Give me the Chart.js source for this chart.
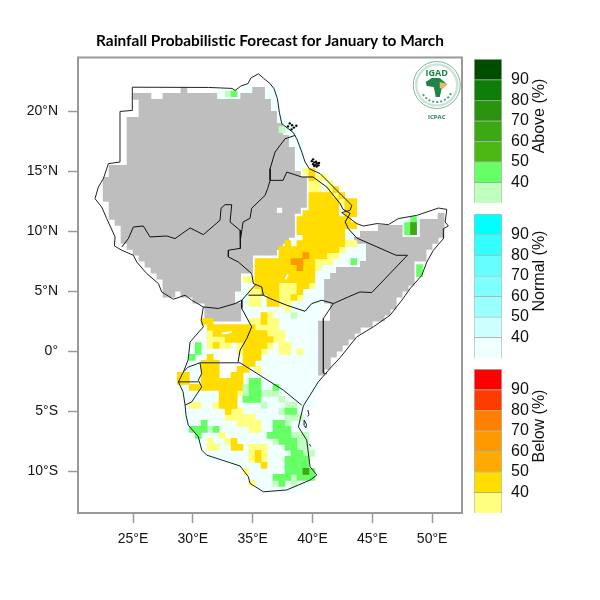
<!DOCTYPE html>
<html>
<head>
<meta charset="utf-8">
<style>
body { margin: 0; background: #fff; }
#wrap { position: relative; width: 600px; height: 600px; }
canvas { position: absolute; }
</style>
<script src="https://cdn.jsdelivr.net/npm/chart.js@4/dist/chart.umd.min.js"></script>
</head>
<body>
<div id="wrap">
    <canvas id="mapa" width="600" height="600" style="left:0;top:0"></canvas>
    <canvas id="barAbove" width="90" height="144" style="left:474px;top:59px"></canvas>
    <canvas id="barNormal" width="90" height="144" style="left:474px;top:214px"></canvas>
    <canvas id="barBelow" width="90" height="144" style="left:474px;top:369px"></canvas>
</div>
<script>
const lonTicks = [25, 30, 35, 40, 45, 50];
const latTicks = [20, 15, 10, 5, 0, -5, -10];

const barEdges = [30, 40, 50, 60, 70, 80, 90, 100];
const barTicks = [40, 50, 60, 70, 80, 90];
const aboveColors = ['#C0FFC0', '#66FF66', '#4BB814', '#3CA814', '#2A9410', '#0F7D0A', '#004D00'];
const normalColors = ['#F0FFFF', '#CCFFFF', '#99FFFF', '#80FFFF', '#66FFFF', '#33FFFF', '#00FFFF'];
const belowColors = ['#FFFF80', '#FFDD00', '#FFAA00', '#FF9900', '#FF7F00', '#FF3C00', '#FF0000'];

// dry season mask: row -> column ranges (half degree cells, from 23N / 21E)
const maskRows = {
    2: '16 28-29', 3: '8-10 13-21 26-29', 4: '9-30', 5: '9-30', 6: '9-31', 7: '7-31', 8: '7-32', 9: '7-32',
    10: '7-33', 11: '7-33', 12: '7-34', 13: '7-34', 14: '7-34', 15: '4-34', 16: '4-35', 17: '3-36', 18: '3-36',
    19: '3-36', 20: '3-36', 21: '4-36', 22: '4-31 33-35', 23: '4-34 59', 24: '5-34 56-59', 25: '6-34 49-52 56-59',
    26: '6-34 46-52 56-59', 27: '6-33 45-58', 28: '7-32 47-57', 29: '8-31 47-56', 30: '9-27 47-56', 31: '10-27 46-54',
    32: '11-27 42-54', 33: '12-25 41-54', 34: '13-25 40-54', 35: '13-25 40-53', 36: '13-14 16-24 40-52',
    37: '18-24 40-51', 38: '20-25 41-51', 39: '20-25 41-50', 40: '20-25 41-49', 41: '39-47', 42: '39-45',
    43: '39-44', 44: '39-43', 45: '39-42', 46: '39-41', 47: '39-40', 48: '39-40', 49: '39'
};

// forecast cells: row -> column ranges + class, later tokens win
// w normal<40, y below<40, Y below 40-50, O below 50-60, l above<40, G above 40-50, D above 50-60
const cellRows = {
    1: '26-27w 30-31w', 2: '21-22w 23l 24G 25w 26-27w 30-31w', 3: '21-25w 30-31w', 4: '30-31w', 5: '31w', 6: '31-32w',
    7: '32-33w', 8: '32l 33-34w', 9: '32-34w', 10: '33-35w', 11: '34-35w', 12: '35w', 13: '35w', 14: '35w',
    15: '36y 37Y', 16: '36w 37Y 38-39y', 17: '36w 37-38y 39w 40y', 18: '36w 37-38y 39w 40y 41Y',
    19: '36w 37-40Y 41y 42Y', 20: '36w 37-41Y 42y 43-44Y', 21: '36w 37-41Y 42w 43-44Y', 22: '36-41Y 42w 43-44Y',
    23: '35-43Y 52-53w 54G 55w', 24: '35-44Y 52w 53G 54D 55w', 25: '35-42Y 43-44w 52w 53G 54D 55w',
    26: '35w 36-42Y 43-44w 53-55w', 27: '33Y 34w 35-42Y 43-44y 45w', 28: '32-41Y 42y 43-46w',
    29: '32-39Y 36O 40-41y 42-46w', 30: '28-37Y 34-35O 38-40y 41-43w 44G 45-46w', 31: '28-37Y 35O 38y 39-41w 55G',
    32: '28-37Y 38-41w 55G', 33: '26-27y 28-37Y 38-39w', 34: '26-27w 28-31Y 32-34y 35-36Y 37y 38-39w',
    35: '25-26w 27-28y 29-31Y 32-34y 35Y 36-39w', 36: '25-26w 27-28y 29w 30-31Y 32-33y 34Y 35y 36-39w',
    37: '25-26w 27-28y 29w 30-31Y 32-33y 34-39w', 38: '26-32w 33y 34-38w', 39: '26-28w 29Y 30y 31-33w 34l 35-38w',
    40: '19-20Y 26w 27-28y 29Y 30-31y 32-38w', 41: '20-27Y 28-31y 32-38w', 42: '19w 20y 21-29Y 30-32y 33-38w',
    43: '19w 20-22y 23-30Y 31-32y 33-38w', 44: '17w 18G 19w 20y 21Y 22-23y 24w 25y 26-29Y 30y 31w 32-33y 34-38w',
    45: '17w 18G 19-21w 25y 26-28Y 29y 30-31w 32-33y 34w 35y 36-38w', 46: '16w 17G 18-19w 20Y 21w 26-28Y 29-38w',
    47: '16-18w 19-21Y 26-27Y 28-38w', 48: '17-18w 19-21Y 25-26Y 27w 28y 29-38w', 49: '15-16Y 17-18w 19-21Y 24-25Y 26-38w',
    50: '15-16Y 17-18w 19-25Y 26w 27-28G 29-38w', 51: '15-16w 17-25Y 26l 27-28G 29-30w 31G 32-38w',
    52: '15-21w 22-24Y 25y 26l 27-28G 29-31l 32-37w', 53: '16-21w 22-24Y 25w 26-28G 29-31w 32l 33-37w',
    54: '16w 17-18y 19-20w 21y 22-24Y 25-28w 29l 30-32w 33-34l 35-37w', 55: '16-22w 23Y 24-25y 26-31w 32l 33-34G 35w',
    56: '16-22w 23-27y 28-32w 33-35l 36w', 57: '16-18w 19G 20-24w 25-28y 29-30w 31-32G 33l 34-36w',
    58: '16w 17-19G 20l 21G 22-26w 27-28y 29-30w 31-33G 34-36w', 59: '18G 19-21w 22y 23-29w 30-33G 34-36l',
    60: '18-19w 20y 21-22w 23y 24Y 25-30w 31l 32-34G 35-36l', 61: '19w 20-21y 22-23w 24-25Y 26w 27-29y 30-32w 33-34G 35-36l 37w',
    62: '19-26w 27y 28Y 29y 30-33w 34-35G 36-37l', 63: '20-26w 27y 28Y 29y 30-32w 33-36G', 64: '24-28w 29Y 30-32w 33-36G',
    65: '26y 27-32w 33-35G 36D 37G', 66: '26-30w 31-33G 34l 35-37G', 67: '27y 28-30w 31l 32G 33w 34l 35-36w', 68: '28-35w'
};

// borders, [lon, lat]
const outerBorder = [[24.94,22.02],[31.3,22.0],[33.28,21.92],[33.53,21.75],[34.0,22.11],[34.62,22.33],[34.84,22.78],[35.48,23.14],[35.9,22.78],[36.46,22.31],[36.79,21.89],[37.07,21.06],[37.23,19.94],[37.43,18.98],[38.4,18.23],[38.69,17.72],[39.11,16.61],[39.38,15.78],[39.74,15.22],[40.64,14.81],[41.47,13.98],[42.45,13.0],[43.29,12.17],[43.15,11.75],[42.45,11.56],[43.15,11.06],[43.7,10.64],[44.26,10.44],[45.38,10.64],[46.35,10.56],[47.18,11.06],[48.72,11.33],[50.53,11.94],[51.23,11.83],[51.09,10.78],[51.36,10.44],[50.95,10.22],[50.95,9.39],[50.11,8.42],[49.56,7.44],[49.14,6.33],[48.16,5.22],[47.47,4.25],[46.49,3.0],[45.09,2.03],[43.7,1.19],[42.31,-0.54],[41.47,-1.44],[40.49,-2.56],[39.8,-3.67],[39.24,-4.56],[38.82,-6.31],[39.52,-7.42],[39.8,-9.64],[40.36,-10.33],[39.8,-10.75],[37.85,-11.58],[35.9,-11.73],[34.78,-11.03],[34.64,-10.48],[33.95,-9.58],[31.16,-8.67],[30.74,-8.25],[30.46,-7.14],[29.62,-6.17],[29.43,-5.33],[29.35,-4.5],[29.18,-3.39],[28.79,-2.56],[29.21,-1.73],[29.6,-0.75],[29.77,0.77],[30.88,2.03],[30.69,2.58],[30.88,3.69],[29.91,4.25],[29.35,4.67],[28.37,4.33],[27.4,4.94],[27.12,5.64],[26.15,6.47],[25.31,7.44],[25.03,8.0],[24.06,8.42],[23.44,8.78],[23.5,9.53],[22.8,11.06],[22.38,12.03],[21.82,12.72],[22.1,13.69],[22.52,14.39],[22.94,15.64],[23.91,15.78],[23.91,20.0],[24.94,20.08],[24.94,22.02]];
const sudanSouth = [[24.06,8.69],[24.61,9.39],[25.03,10.36],[25.86,10.44],[26.42,9.53],[27.82,9.61],[28.51,9.39],[29.77,10.28],[30.88,9.72],[32.27,10.92],[32.36,11.92],[32.69,12.22],[33.25,12.22],[33.11,10.78],[33.95,10.08],[34.0,9.44],[33.95,8.58],[32.97,8.42],[32.97,7.86],[33.8,7.44],[34.92,6.47],[35.06,5.64],[35.76,5.36],[35.89,4.67],[36.46,4.39],[37.85,3.83],[39.38,3.33],[39.94,3.97],[40.78,4.25],[41.75,3.97],[43.0,4.53],[43.98,4.94],[44.96,4.89],[47.94,8.0],[46.99,8.0],[43.7,9.44],[43.0,10.22],[42.73,10.78],[43.15,11.5]];
const sudanEast = [[38.55,18.0],[37.71,17.72],[36.87,16.61],[36.46,15.22],[36.46,14.25],[36.26,13.58],[36.04,13.0],[34.92,11.92],[34.78,11.08],[34.2,10.78],[34.0,9.44]];
const eritreaSouth = [[36.46,14.25],[37.54,14.25],[37.85,14.94],[39.11,14.53],[40.05,14.53],[41.2,13.69],[42.31,12.31],[42.56,11.83],[43.15,11.5]];
const ugandaNorth = [[30.88,3.69],[32.13,3.56],[33.53,3.97],[34.09,4.25],[35.2,5.5]];
const ilemi = [[34.64,4.67],[35.89,4.67]];
const ugandaKenya = [[34.09,4.25],[34.09,3.56],[34.92,2.03],[34.51,1.06],[33.95,0.08],[33.78,-0.92]];
const tanzaniaNorth = [[30.6,-0.97],[33.95,-0.97],[37.57,-3.25],[39.1,-4.5]];
const rwandaEast = [[30.6,-0.97],[30.74,-1.86],[30.46,-2.42],[30.74,-2.98],[29.91,-4.23],[29.35,-4.5]];
const rwandaSouth = [[28.79,-2.56],[30.46,-2.56]];
const rwandaNorth = [[29.21,-1.73],[29.6,-1.33],[30.6,-0.97]];
const kenyaSomalia = [[41.75,3.97],[40.91,2.72],[40.91,-0.75],[40.91,-1.83],[41.2,-1.9]];
const pemba = [[39.62,-4.9],[39.7,-5.3],[39.6,-5.45]];
const zanzibar = [[39.3,-5.75],[39.5,-6.1],[39.45,-6.4],[39.3,-6.2],[39.3,-5.75]];
const mafia = [[39.75,-7.75],[39.85,-7.95]];
const lakeKyoga = [[32.42,1.47],[33.0,1.55],[33.25,1.65]];
const lakeAbaya = [[37.75,6.0],[37.95,6.4]];
const islands = [[40.05,15.6],[40.15,15.75],[40.25,15.55],[40.3,15.8],[40.15,15.45],[40.4,15.65],[40.5,15.5],[40.35,15.4],[39.95,15.85],[40.55,15.7],[40.05,16.0],[37.95,18.75],[38.1,19.0],[38.3,18.85],[38.45,18.65],[38.65,18.8],[38.25,18.5]];

const cellColors = { w: '#F0FFFF', y: '#FFFF80', Y: '#FFDD00', O: '#FF9900', l: '#C0FFC0', G: '#66FF66', D: '#3FA80F' };

function leerFila(texto) {
    const celdas = [];
    texto.split(' ').forEach(function (token) {
        const m = token.match(/^(\d+)(?:-(\d+))?([a-zA-Z]?)$/);
        const fin = m[2] ? Number(m[2]) : Number(m[1]);
        for (let k = Number(m[1]); k <= fin; k++) {
            celdas.push({ col: k, clase: m[3] });
        }
    });
    return celdas;
}

function puntosMascara() {
    const puntos = [];
    Object.keys(maskRows).forEach(function (r) {
        leerFila(maskRows[r]).forEach(function (c) {
            puntos.push({ x: 21.25 + 0.5 * c.col, y: 22.75 - 0.5 * Number(r) });
        });
    });
    return puntos;
}

function puntosCeldas() {
    const porClase = { w: [], y: [], Y: [], O: [], l: [], G: [], D: [] };
    Object.keys(cellRows).forEach(function (j) {
        const fila = {};
        leerFila(cellRows[j]).forEach(function (c) { fila[c.col] = c.clase; });
        Object.keys(fila).forEach(function (k) {
            porClase[fila[k]].push({ x: 21.45 + 0.5 * Number(k), y: 22.475 - 0.5 * Number(j) });
        });
    });
    return porClase;
}

function radioCelda(ctx) {
    const s = ctx.chart.scales.x;
    return Math.abs(s.getPixelForValue(0.5) - s.getPixelForValue(0)) * Math.SQRT1_2 + 0.5;
}

function capaCeldas(puntos, color) {
    return {
        data: puntos,
        showLine: false,
        pointStyle: 'rect',
        pointRadius: radioCelda,
        pointBorderWidth: 0,
        pointBackgroundColor: color
    };
}

function capaLinea(lista, color, ancho) {
    return {
        data: lista.map(function (p) { return { x: p[0], y: p[1] }; }),
        showLine: true,
        pointRadius: 0,
        borderColor: color,
        borderWidth: ancho,
        tension: 0
    };
}

const celdas = puntosCeldas();

const marco = {
    id: 'marco',
    afterDraw: function (chart) {
        const a = chart.chartArea;
        const ctx = chart.ctx;
        ctx.save();
        ctx.strokeStyle = '#999999';
        ctx.lineWidth = 2;
        ctx.strokeRect(a.left, a.top, a.right - a.left, a.bottom - a.top);
        ctx.restore();
    }
};

// logo IGAD / ICPAC
const logo = {
    id: 'logo',
    afterDatasetsDraw: function (chart) {
        const ctx = chart.ctx;
        const cx = chart.scales.x.getPixelForValue(50.39);
        const cy = chart.scales.y.getPixelForValue(22.2);
        ctx.save();
        ctx.strokeStyle = '#7FB79A';
        ctx.lineWidth = 1;
        ctx.beginPath();
        ctx.arc(cx, cy, 23.5, 0, 2 * Math.PI);
        ctx.stroke();
        ctx.lineWidth = 2.5;
        ctx.strokeStyle = '#CFE3D8';
        ctx.beginPath();
        ctx.arc(cx, cy, 20.5, 0, 2 * Math.PI);
        ctx.stroke();
        ctx.lineWidth = 2;
        ctx.strokeStyle = '#4F9E78';
        ctx.setLineDash([2, 2]);
        ctx.beginPath();
        ctx.arc(cx, cy + 1, 16, 0.15 * Math.PI, 0.85 * Math.PI);
        ctx.stroke();
        ctx.setLineDash([]);
        ctx.fillStyle = '#1E8449';
        ctx.beginPath();
        ctx.moveTo(cx - 11, cy - 3);
        ctx.lineTo(cx - 5, cy - 7);
        ctx.lineTo(cx + 3, cy - 7);
        ctx.lineTo(cx + 10, cy - 1);
        ctx.lineTo(cx + 5, cy + 3);
        ctx.lineTo(cx + 3, cy + 12);
        ctx.lineTo(cx - 1, cy + 12);
        ctx.lineTo(cx - 3, cy + 2);
        ctx.lineTo(cx - 10, cy + 1);
        ctx.closePath();
        ctx.fill();
        ctx.fillStyle = '#E8B96A';
        ctx.beginPath();
        ctx.moveTo(cx + 3, cy - 3);
        ctx.lineTo(cx + 11, cy - 1);
        ctx.lineTo(cx + 6, cy + 4);
        ctx.lineTo(cx + 3, cy + 3);
        ctx.closePath();
        ctx.fill();
        ctx.fillStyle = '#1E8449';
        ctx.textAlign = 'center';
        ctx.textBaseline = 'middle';
        ctx.font = 'bold 9px "Open Sans"';
        ctx.fillText('IGAD', cx, cy - 12);
        ctx.font = 'bold 6px "Open Sans"';
        ctx.fillText('ICPAC', cx, cy + 32);
        ctx.restore();
    }
};

new Chart(document.getElementById('mapa'), {
    type: 'scatter',
    data: {
        datasets: [
            capaLinea(outerBorder, '#222222', 1),
            capaLinea(sudanSouth, '#111111', 1),
            capaLinea(sudanEast, '#111111', 1),
            capaLinea(eritreaSouth, '#111111', 1),
            capaLinea(ugandaNorth, '#111111', 1),
            capaLinea(ilemi, '#111111', 1),
            capaLinea(ugandaKenya, '#111111', 1),
            capaLinea(tanzaniaNorth, '#222222', 1),
            capaLinea(rwandaEast, '#222222', 1),
            capaLinea(rwandaSouth, '#222222', 1),
            capaLinea(rwandaNorth, '#222222', 1),
            capaLinea(kenyaSomalia, '#222222', 1),
            capaLinea(pemba, '#222222', 1),
            capaLinea(zanzibar, '#222222', 1),
            capaLinea(mafia, '#222222', 1),
            capaLinea(lakeKyoga, '#FFFFFF', 2),
            capaLinea(lakeAbaya, '#FFFFFF', 2),
            {
                data: islands.map(function (p) { return { x: p[0], y: p[1] }; }),
                showLine: false,
                pointRadius: 1.2,
                pointBorderWidth: 0,
                pointBackgroundColor: '#000000'
            },
            capaCeldas(celdas.D, cellColors.D),
            capaCeldas(celdas.G, cellColors.G),
            capaCeldas(celdas.l, cellColors.l),
            capaCeldas(celdas.O, cellColors.O),
            capaCeldas(celdas.Y, cellColors.Y),
            capaCeldas(celdas.y, cellColors.y),
            capaCeldas(puntosMascara(), '#BEBEBE'),
            capaCeldas(celdas.w, cellColors.w)
        ]
    },
    options: {
        responsive: false,
        animation: false,
        layout: { padding: { left: 0, right: 138, top: 0, bottom: 47 } },
        plugins: {
            legend: { display: false },
            tooltip: { enabled: false },
            title: {
                display: true,
                fullSize: false,
                text: 'Rainfall Probabilistic Forecast for January to March',
                color: '#000000',
                font: { family: 'Lato', size: 15.4, weight: 'bold', lineHeight: 1.2 },
                padding: { top: 32, bottom: 7 }
            }
        },
        scales: {
            x: {
                type: 'linear',
                min: 20.4,
                max: 52.5,
                afterBuildTicks: function (scale) {
                    scale.ticks = lonTicks.map(function (v) { return { value: v }; });
                },
                afterFit: function (scale) {
                    scale.height = 40;
                    scale.paddingLeft = 0;
                    scale.paddingRight = 0;
                },
                grid: { drawOnChartArea: false, drawTicks: true, tickLength: 10, tickWidth: 1.5, tickColor: '#999999' },
                border: { display: false },
                ticks: {
                    autoSkip: false,
                    maxRotation: 0,
                    color: '#111111',
                    padding: 8,
                    font: { family: 'Liberation Sans', size: 14 },
                    callback: function (v) { return v + '°E'; }
                }
            },
            y: {
                type: 'linear',
                min: -13.5,
                max: 24.5,
                afterBuildTicks: function (scale) {
                    scale.ticks = latTicks.map(function (v) { return { value: v }; });
                },
                afterFit: function (scale) {
                    scale.width = 78;
                    scale.paddingTop = 0;
                    scale.paddingBottom = 0;
                },
                grid: { drawOnChartArea: false, drawTicks: true, tickLength: 10, tickWidth: 1.5, tickColor: '#999999' },
                border: { display: false },
                ticks: {
                    autoSkip: false,
                    color: '#111111',
                    padding: 10,
                    font: { family: 'Liberation Sans', size: 14 },
                    callback: function (v) {
                        if (v === 0) return '0°';
                        return Math.abs(v) + (v > 0 ? '°N' : '°S');
                    }
                }
            }
        }
    },
    plugins: [marco, logo]
});

function barraColor(id, colores, titulo) {
    const tituloBarra = {
        id: 'tituloBarra',
        afterDraw: function (chart) {
            const ctx = chart.ctx;
            ctx.save();
            ctx.translate(66, 57);
            ctx.rotate(-Math.PI / 2);
            ctx.fillStyle = '#111111';
            ctx.textAlign = 'center';
            ctx.textBaseline = 'middle';
            ctx.font = '16px "Liberation Sans"';
            ctx.fillText(titulo, 0, 0);
            ctx.restore();
        }
    };
    new Chart(document.getElementById(id), {
        type: 'bar',
        data: {
            labels: [titulo],
            datasets: colores.map(function (c, i) {
                return {
                    data: [[barEdges[i], barEdges[i + 1]]],
                    backgroundColor: c,
                    borderColor: 'rgba(40,60,40,0.35)',
                    borderWidth: 1,
                    grouped: false,
                    barPercentage: 1,
                    categoryPercentage: 1
                };
            })
        },
        options: {
            responsive: false,
            animation: false,
            layout: { padding: 0 },
            plugins: { legend: { display: false }, tooltip: { enabled: false } },
            scales: {
                x: { display: false },
                y: {
                    position: 'right',
                    min: 30,
                    max: 100,
                    afterBuildTicks: function (scale) {
                        scale.ticks = barTicks.map(function (v) { return { value: v }; });
                    },
                    afterFit: function (scale) {
                        scale.width = 62;
                        scale.paddingTop = 0;
                        scale.paddingBottom = 0;
                    },
                    grid: { display: false },
                    border: { display: false },
                    ticks: {
                        padding: 1,
                        color: '#111111',
                        font: { family: 'Liberation Sans', size: 16 }
                    }
                }
            }
        },
        plugins: [tituloBarra]
    });
}

barraColor('barAbove', aboveColors, 'Above (%)');
barraColor('barNormal', normalColors, 'Normal (%)');
barraColor('barBelow', belowColors, 'Below (%)');
</script>
</body>
</html>
